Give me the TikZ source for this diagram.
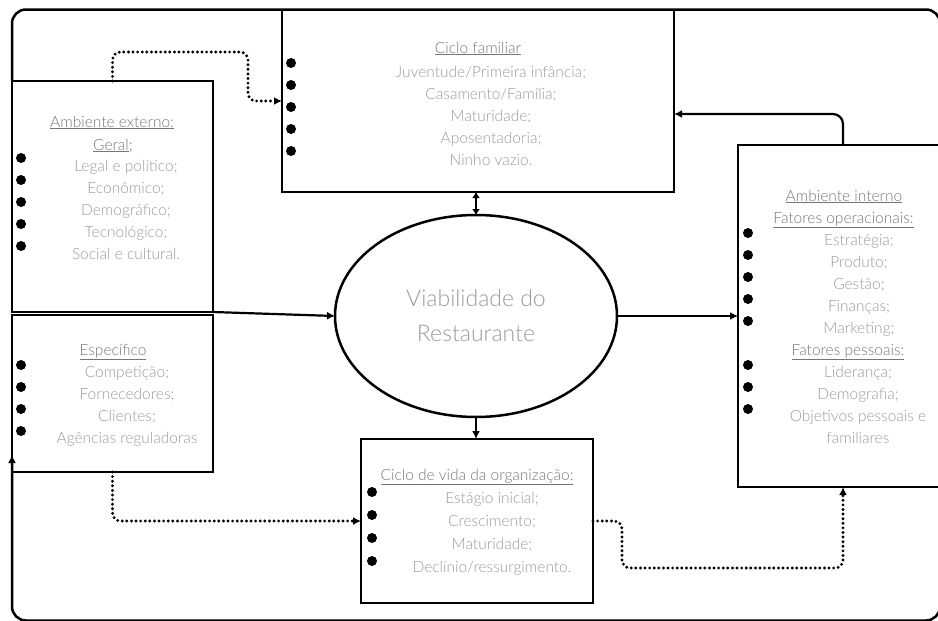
\documentclass[tikz,border=0pt]{standalone}
\usepackage{fontspec}
\IfFontExistsTF{Lato Light}{\setmainfont{Lato Light}}{\setmainfont{Lato}}
\usetikzlibrary{arrows.meta,calc,shapes.geometric}
\definecolor{tgray}{HTML}{767676}
\definecolor{igray}{HTML}{9A9A9A}
\begin{document}
\begin{tikzpicture}[x=1pt,y=-1pt,
  box/.style={draw,line width=2.5pt,rectangle,outer sep=0pt,inner sep=0pt},
  ttl/.style={font=\fontsize{15.5}{22}\selectfont,text=tgray,anchor=base,inner sep=0pt},
  itm/.style={font=\fontsize{15.5}{22}\selectfont,text=igray,anchor=base,inner sep=0pt},
  conn/.style={line width=2.2pt,-{Latex[length=8pt,width=8pt]}},
  dotl/.style={line width=3.2pt,line cap=round,dash pattern=on 0pt off 4.6pt,rounded corners=8pt,-{Latex[length=8pt,width=8pt]}},
  frame/.style={line width=2.5pt,rounded corners=14pt,-{Latex[length=8pt,width=8pt]}}]
\useasboundingbox (0,0) rectangle (938,621);

% boxes
\node[box,minimum width=392pt,minimum height=182pt] (fam) at (478,101) {};
\node[box,minimum width=201pt,minimum height=231pt] (ext) at (112.5,196.5) {};
\node[box,minimum width=201pt,minimum height=157pt] (esp) at (112.5,393.5) {};
\node[box,minimum width=202pt,minimum height=342pt] (int) at (839,316) {};
\node[box,minimum width=232pt,minimum height=164pt] (vida) at (477,521) {};
\node[ellipse,draw,line width=2.5pt,minimum width=282pt,minimum height=202pt,inner sep=0pt,outer sep=0pt,
      align=center,font=\fontsize{23}{35}\selectfont,text=igray] (via) at (476,316) {Viabilidade do\\Restaurante};

% Ciclo familiar
\node[ttl] (famt) at (478,53) {\underline{Ciclo familiar}};
\foreach \t [count=\i] in {Juventude/Primeira infância;,Casamento/Família;,Maturidade;,Aposentadoria;,Ninho vazio.}
  \node[itm] (fam\i) at (491,{77+22*(\i-1)}) {\t};
\foreach \y in {63,85,107,129,151} \fill (291,\y) circle (5pt);

% Ambiente externo
\node[ttl] (extt) at (112,127) {\underline{Ambiente externo:}};
\node[ttl] (extg) at (113,150) {\underline{Geral};};
\foreach \t [count=\i] in {Legal e político;,Econômico;,Demográfico;,Tecnológico;,Social e cultural.}
  \node[itm] (ext\i) at (126,{171+22*(\i-1)}) {\t};
\foreach \y in {158,180,202,224,246} \fill (21,\y) circle (5pt);

% Especifico
\node[ttl] (espt) at (113,355) {\underline{Específico}};
\foreach \t [count=\i] in {Competição;,Fornecedores;,Clientes;,Agências reguladoras}
  \node[itm] (esp\i) at (127,{377+22*(\i-1)}) {\t};
\foreach \y in {365,387,409,431} \fill (21,\y) circle (5pt);

% Ambiente interno
\node[ttl] (intt) at (844,201) {\underline{Ambiente interno}};
\node[ttl] (into) at (843.5,223) {\underline{Fatores operacionais:}};
\foreach \t [count=\i] in {Estratégia;,Produto;,Gestão;,Finanças;,Marketing;}
  \node[itm] (inta\i) at (859,{245+22*(\i-1)}) {\t};
\node[ttl] (intp) at (848,355) {\underline{Fatores pessoais:}};
\foreach \t [count=\i] in {Liderança;,Demografia;,Objetivos pessoais e,familiares}
  \node[itm] (intb\i) at (858,{377+22*(\i-1)}) {\t};
\foreach \y in {233,255,277,299,321,365,387,409} \fill (748,\y) circle (5pt);

% Ciclo de vida
\node[ttl] (vidat) at (477,480) {\underline{Ciclo de vida da organização:}};
\foreach \t [count=\i] in {Estágio inicial;,Crescimento;,Maturidade;,Declínio/ressurgimento.}
  \node[itm] (vida\i) at (492,{503+23*(\i-1)}) {\t};
\foreach \y in {492,515,538,561} \fill (372,\y) circle (5pt);

% connectors
\draw[frame] (ext.north west) |- (940,9.5) |- (12,620.5) -- ($(esp.south west)+(0,-17)$);
\draw[line width=2.2pt,{Latex[length=6pt,width=8pt]}-{Latex[length=6pt,width=8pt]}] (via.north |- fam.south) -- (via.north);
\draw[conn] (ext.south east) -- (via.west);
\draw[conn] (via.east) -- (via.east -| int.west);
\draw[conn,rounded corners=10pt] ($(int.north)+(4,0)$) |- ($(fam.east)+(0,13)$);
\draw[conn] (via.south) -- (via.south |- vida.north);
\draw[dotl] (esp.south) |- (vida.west);
\draw[dotl] (vida.east) -| (622,568) -| ($(int.south)+(4,0)$);
\draw[dotl] (ext.north) |- (248,52) |- (fam.west);
\end{tikzpicture}
\end{document}
